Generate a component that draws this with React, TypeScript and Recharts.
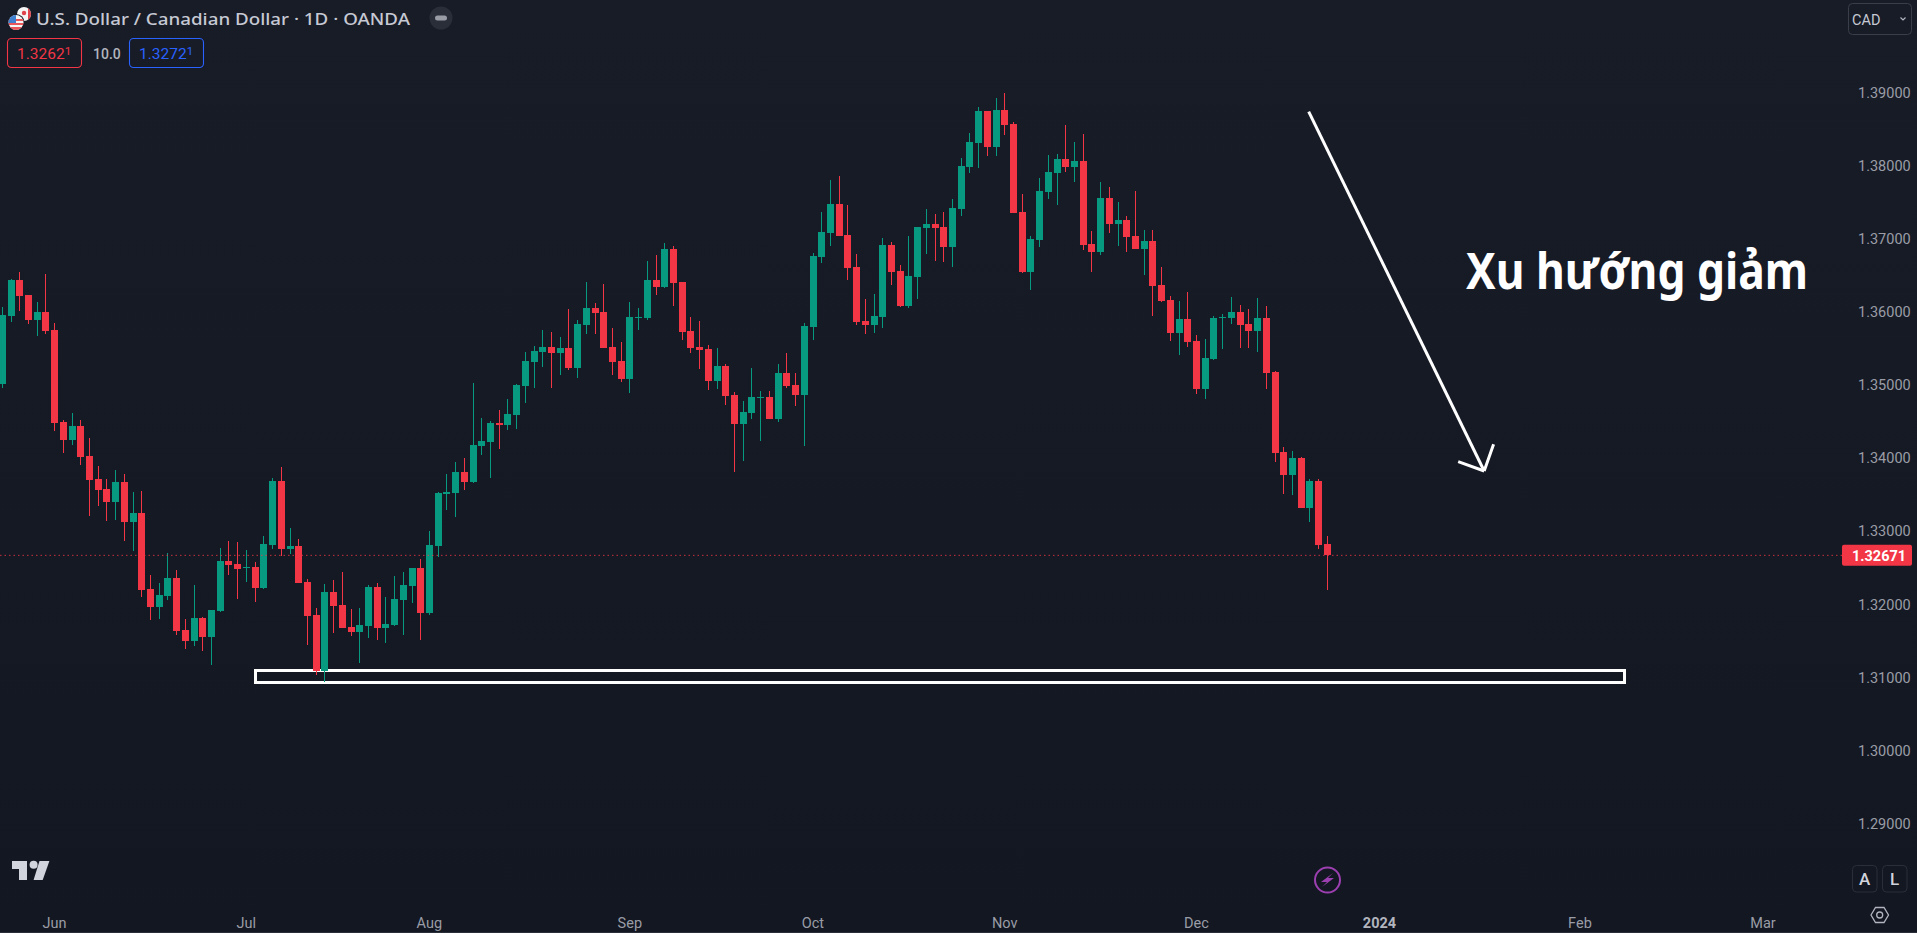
import { Bar, ComposedChart, ReferenceArea, ReferenceLine, XAxis, YAxis } from "recharts";

const opens = [
  1.35015, 1.35945, 1.36437, 1.36232, 1.3589, 1.36, 1.35753, 1.34495, 1.34249, 1.3444,
  1.3403, 1.33715, 1.33578, 1.334, 1.33674, 1.33127, 1.3325, 1.3221, 1.31964, 1.32115,
  1.32361, 1.31649, 1.31499, 1.31814, 1.31554, 1.31909, 1.32593, 1.32552, 1.32498, 1.32511,
  1.32224, 1.32812, 1.33688, 1.32757, 1.32799, 1.32306, 1.31855, 1.31089, 1.32169, 1.31991,
  1.3169, 1.31622, 1.31704, 1.32238, 1.31677, 1.31718, 1.3206, 1.32251, 1.32498, 1.31882,
  1.32799, 1.3351, 1.33524, 1.33812, 1.33675, 1.34167, 1.34222, 1.34482, 1.34455, 1.34591,
  1.34988, 1.35316, 1.35453, 1.35522, 1.3544, 1.35508, 1.35234, 1.35823, 1.36055, 1.36,
  1.35522, 1.3533, 1.35084, 1.35918, 1.35918, 1.36438, 1.36342, 1.36862, 1.36411, 1.35741,
  1.35522, 1.35494, 1.35057, 1.35262, 1.34865, 1.34468, 1.34619, 1.34824, 1.34838, 1.34537,
  1.35166, 1.35002, 1.34865, 1.35795, 1.36753, 1.37081, 1.37478, 1.37054, 1.36616, 1.35877,
  1.35822, 1.35932, 1.36917, 1.36561, 1.36082, 1.36479, 1.37149, 1.37204, 1.37163, 1.36889,
  1.37409, 1.37984, 1.38312, 1.3875, 1.38257, 1.38764, 1.38572, 1.37368, 1.36547, 1.36985,
  1.37642, 1.37902, 1.38093, 1.37984, 1.38066, 1.3693, 1.36821, 1.3756, 1.37204, 1.37259,
  1.3704, 1.36862, 1.36972, 1.3637, 1.36164, 1.35713, 1.35904, 1.35604, 1.34946, 1.35357,
  1.35918, 1.35918, 1.36, 1.35835, 1.3574, 1.35918, 1.35179, 1.34084, 1.3377, 1.34002,
  1.33318, 1.33688, 1.32826,
];
const highs = [
  1.36068, 1.36451, 1.36547, 1.36232, 1.36136, 1.36519, 1.35849, 1.34522, 1.34618, 1.34522,
  1.34276, 1.33893, 1.33715, 1.33838, 1.33783, 1.33537, 1.33551, 1.32402, 1.32292, 1.32703,
  1.3247, 1.318, 1.32265, 1.31827, 1.31923, 1.32771, 1.32867, 1.32853, 1.32744, 1.3258,
  1.32935, 1.33729, 1.33879, 1.33045, 1.32894, 1.32347, 1.3195, 1.32279, 1.32333, 1.32443,
  1.31937, 1.3195, 1.32265, 1.32292, 1.32101, 1.32388, 1.32443, 1.32498, 1.32621, 1.33004,
  1.33537, 1.33783, 1.33948, 1.34003, 1.35029, 1.3455, 1.34509, 1.3466, 1.3481, 1.35015,
  1.35453, 1.35535, 1.35754, 1.35727, 1.35658, 1.36041, 1.35891, 1.36411, 1.36124, 1.36383,
  1.35782, 1.3559, 1.36137, 1.36055, 1.36698, 1.3678, 1.36944, 1.36903, 1.36411, 1.35932,
  1.35877, 1.35549, 1.35508, 1.35289, 1.34906, 1.34783, 1.35234, 1.3492, 1.3492, 1.35289,
  1.3544, 1.35166, 1.3585, 1.36807, 1.37368, 1.37806, 1.37861, 1.37464, 1.36794, 1.36178,
  1.36246, 1.37013, 1.36958, 1.36643, 1.3704, 1.37163, 1.37409, 1.37341, 1.37368, 1.37546,
  1.38107, 1.38449, 1.38805, 1.3875, 1.38928, 1.38996, 1.38599, 1.37614, 1.3704, 1.37833,
  1.38148, 1.38162, 1.38558, 1.38326, 1.38435, 1.37108, 1.37779, 1.3771, 1.37505, 1.37314,
  1.37656, 1.37122, 1.37122, 1.36616, 1.36219, 1.36151, 1.36274, 1.35686, 1.3563, 1.35945,
  1.35972, 1.36205, 1.36095, 1.36041, 1.36191, 1.36082, 1.35193, 1.34153, 1.34098, 1.34016,
  1.33715, 1.33715, 1.32935,
];
const lows = [
  1.3496, 1.35863, 1.36013, 1.35835, 1.35671, 1.35699, 1.34372, 1.34071, 1.3418, 1.33907,
  1.33209, 1.33346, 1.33141, 1.33154, 1.32867, 1.3273, 1.32101, 1.31786, 1.318, 1.3206,
  1.31581, 1.31389, 1.31431, 1.31362, 1.31171, 1.31896, 1.32402, 1.32073, 1.32306, 1.32032,
  1.3221, 1.32757, 1.32662, 1.32689, 1.32292, 1.31444, 1.31034, 1.30938, 1.31608, 1.31677,
  1.31567, 1.31198, 1.3154, 1.31513, 1.31472, 1.31704, 1.31581, 1.32019, 1.31513, 1.31855,
  1.32648, 1.33291, 1.33196, 1.33565, 1.33661, 1.34044, 1.3373, 1.34126, 1.34386, 1.344,
  1.34756, 1.34961, 1.35248, 1.34961, 1.35139, 1.35207, 1.35098, 1.35699, 1.35699, 1.35508,
  1.35139, 1.35043, 1.34892, 1.35754, 1.35891, 1.36233, 1.36329, 1.36083, 1.35617, 1.3544,
  1.35221, 1.34933, 1.34947, 1.34728, 1.33812, 1.33962, 1.34537, 1.34236, 1.34537, 1.34496,
  1.34961, 1.34715, 1.34167, 1.35617, 1.36671, 1.36903, 1.3704, 1.36438, 1.35822, 1.35699,
  1.35713, 1.35781, 1.3637, 1.36069, 1.36055, 1.36178, 1.36794, 1.36698, 1.36684, 1.36616,
  1.37314, 1.37902, 1.3797, 1.38134, 1.38134, 1.38422, 1.37355, 1.36534, 1.36301, 1.36889,
  1.37546, 1.37464, 1.37915, 1.37779, 1.36848, 1.36547, 1.3678, 1.37081, 1.36903, 1.36821,
  1.36862, 1.36506, 1.35946, 1.36137, 1.35604, 1.35412, 1.35521, 1.34878, 1.34809, 1.35343,
  1.35493, 1.35835, 1.35507, 1.35507, 1.35452, 1.34946, 1.33948, 1.3351, 1.33496, 1.33318,
  1.33127, 1.32757, 1.32197,
];
const closes = [
  1.35959, 1.36437, 1.36219, 1.3589, 1.36, 1.3574, 1.34481, 1.34249, 1.3444, 1.34016,
  1.33701, 1.33565, 1.334, 1.33674, 1.33127, 1.3325, 1.32197, 1.31964, 1.32128, 1.32361,
  1.31636, 1.31499, 1.31814, 1.31554, 1.31923, 1.32593, 1.32539, 1.32484, 1.32511, 1.32224,
  1.32826, 1.33688, 1.32757, 1.32799, 1.32292, 1.31841, 1.31089, 1.32169, 1.31978, 1.31677,
  1.31622, 1.31718, 1.32238, 1.31677, 1.31731, 1.32073, 1.32265, 1.32498, 1.31882, 1.32812,
  1.33524, 1.33537, 1.33812, 1.33675, 1.34181, 1.34236, 1.34482, 1.34455, 1.34605, 1.35002,
  1.3533, 1.35467, 1.35522, 1.3544, 1.35508, 1.35234, 1.35836, 1.36055, 1.35987, 1.35508,
  1.35316, 1.35084, 1.35932, 1.35932, 1.36438, 1.36342, 1.36862, 1.36397, 1.35727, 1.35508,
  1.35481, 1.35057, 1.35262, 1.34851, 1.34468, 1.34632, 1.34838, 1.34838, 1.34537, 1.35166,
  1.34988, 1.34865, 1.35809, 1.36766, 1.37095, 1.37478, 1.3704, 1.36602, 1.35863, 1.35822,
  1.35946, 1.36917, 1.36547, 1.36082, 1.36493, 1.37163, 1.37204, 1.37149, 1.36889, 1.37423,
  1.37998, 1.38326, 1.3875, 1.38257, 1.38764, 1.38558, 1.37355, 1.36547, 1.36999, 1.37656,
  1.37915, 1.38093, 1.37984, 1.38066, 1.36917, 1.36821, 1.3756, 1.37204, 1.37259, 1.37026,
  1.36862, 1.36972, 1.36356, 1.36151, 1.35713, 1.35904, 1.3559, 1.34947, 1.3537, 1.35918,
  1.35931, 1.36, 1.35822, 1.3574, 1.35918, 1.35165, 1.34071, 1.3377, 1.34002, 1.33318,
  1.33688, 1.32812, 1.32671,
];

const priceTicks = [1.29, 1.3, 1.31, 1.32, 1.33, 1.34, 1.35, 1.36, 1.37, 1.38, 1.39];
const monthTickIndexes = [6, 28, 49, 72, 93, 115, 137, 158, 181, 202];
const monthTickLabels = ["Jun", "Jul", "Aug", "Sep", "Oct", "Nov", "Dec", "2024", "Feb", "Mar"];

// hand drawn annotations, in bar index / price
const supportZone = { fromIndex: 29.06, toIndex: 186.11, low: 1.30932, high: 1.31096 };
const arrowShaft = [
  { x: 149.88, y: 1.3874 },
  { x: 170.01, y: 1.33825 },
];
const arrowBarbLeft = [
  { x: 167.03, y: 1.33952 },
  { x: 170.01, y: 1.33825 },
];
const arrowBarbRight = [
  { x: 171.09, y: 1.3419 },
  { x: 170.01, y: 1.33825 },
];

const UP = "#089981";
const DOWN = "#f23645";
const AXIS_TEXT = "#9a9da6";
const FONT = "Roboto, sans-serif";

const candles = opens.map((open, i) => ({
  i,
  open,
  close: closes[i],
  high: highs[i],
  low: lows[i],
  range: [lows[i], highs[i]],
}));
const lastClose = closes[closes.length - 1];

function Candle(props: any) {
  const { x, y, width, height, payload } = props;
  const { open, close, high, low } = payload;
  const pxPerPrice = height / (high - low);
  const color = close >= open ? UP : DOWN;
  const left = Math.round(x + width / 2 - 3.5);
  const bodyTop = Math.round(y + (high - Math.max(open, close)) * pxPerPrice);
  const bodyBottom = Math.round(y + (high - Math.min(open, close)) * pxPerPrice);
  const wickTop = Math.round(y);
  const wickBottom = Math.round(y + height);
  return (
    <g>
      <rect x={left + 3} y={wickTop} width={1} height={wickBottom - wickTop} fill={color} />
      <rect x={left} y={bodyTop} width={7} height={Math.max(bodyBottom - bodyTop, 1)} fill={color} />
    </g>
  );
}

function MonthTick({ x, y, payload }: any) {
  const label = monthTickLabels[monthTickIndexes.indexOf(payload.value)];
  return (
    <text
      x={x}
      y={y + 27}
      textAnchor="middle"
      fill={label === "2024" ? "#b2b5be" : AXIS_TEXT}
      fontFamily={FONT}
      fontSize={14.5}
      fontWeight={label === "2024" ? 700 : 400}
    >
      {label}
    </text>
  );
}

function PriceTag({ viewBox }: any) {
  const right = viewBox.x + viewBox.width;
  const mid = viewBox.y;
  return (
    <g>
      <rect x={right} y={mid - 10.5} width={70} height={21} rx={2} fill={DOWN} />
      <text x={right + 10} y={mid + 5.5} fill="#fff" fontFamily={FONT} fontSize={14.5} fontWeight={700}>
        {lastClose.toFixed(5)}
      </text>
    </g>
  );
}

function QuoteBox({ x, color, price }: { x: number; color: string; price: string }) {
  return (
    <g>
      <rect x={x + 0.5} y={38.5} width={74} height={29} rx={4} fill="none" stroke={color} strokeWidth={1.1} />
      <text x={x + 10} y={59} fill={color} fontFamily={FONT} fontSize={15.5}>
        {price}
        <tspan fontSize={11.5} dy={-4.5}>
          1
        </tspan>
      </text>
    </g>
  );
}

function Overlay() {
  return (
    <svg
      width={1917}
      height={933}
      style={{ position: "absolute", left: 0, top: 0, pointerEvents: "none" }}
    >
      <defs>
        <clipPath id="usFlag">
          <circle cx={16} cy={22.5} r={7.5} />
        </clipPath>
        <clipPath id="caFlag">
          <circle cx={24} cy={14} r={7} />
        </clipPath>
      </defs>

      <g clipPath="url(#caFlag)">
        <rect x={16} y={6} width={16} height={16} fill="#f5f5f5" />
        <rect x={28} y={6} width={4} height={16} fill="#e0434b" />
        <circle cx={24} cy={13} r={2.2} fill="#e0434b" />
      </g>
      <circle cx={16} cy={22.5} r={8.6} fill="#181c27" />
      <g clipPath="url(#usFlag)">
        <rect x={8} y={15} width={16} height={16} fill="#f5f5f5" />
        <rect x={8} y={19} width={16} height={2} fill="#e8565a" />
        <rect x={8} y={23} width={16} height={2} fill="#e8565a" />
        <rect x={8} y={27} width={16} height={4} fill="#e8565a" />
        <rect x={8} y={15} width={8} height={8} fill="#3f7fd0" />
      </g>

      <text
        x={36}
        y={25}
        fill="#c6c9d3"
        fontFamily="'Noto Sans', sans-serif"
        fontSize={16.5}
        fontWeight={500}
        textLength={374}
        lengthAdjust="spacingAndGlyphs"
      >
        U.S. Dollar / Canadian Dollar · 1D · OANDA
      </text>
      <circle cx={441} cy={18} r={11.5} fill="#2a2e39" />
      <rect x={435} y={15.5} width={12} height={5} rx={2.5} fill="#9a9da6" />

      <QuoteBox x={7} color={DOWN} price="1.3262" />
      <text x={93} y={58.5} fill="#b2b5be" fontFamily={FONT} fontSize={14} fontWeight={500}>
        10.0
      </text>
      <QuoteBox x={129} color="#2962ff" price="1.3272" />

      <rect x={1848.5} y={3.5} width={63} height={31} rx={4} fill="none" stroke="#3a3e49" />
      <text x={1852} y={25} fill="#c6c9d3" fontFamily={FONT} fontSize={14.5}>
        CAD
      </text>
      <path d="M1900.5 17.5 L1903 20 L1905.5 17.5" fill="none" stroke="#b2b5be" strokeWidth={1.2} />

      <text
        x={1466}
        y={289}
        fill="#fff"
        fontFamily="'Noto Sans', sans-serif"
        fontSize={50}
        fontWeight={700}
        textLength={342}
        lengthAdjust="spacingAndGlyphs"
      >
        Xu hướng giảm
      </text>

      <path d="M12 861 H27 V880 H19 V869 H12 Z" fill="#d1d4dc" />
      <circle cx={33.6} cy={864.8} r={4} fill="#d1d4dc" />
      <path d="M39.5 861 H49.4 L42.7 880 H33.6 Z" fill="#d1d4dc" />

      <circle cx={1327.5} cy={880} r={12.5} fill="none" stroke="#9c3fb0" strokeWidth={2} />
      <path d="M1333 873 L1321 882 H1327 L1322 887 L1334 878 H1328 Z" fill="#9c3fb0" />

      <rect x={1852.5} y={865.5} width={24.5} height={26.5} rx={4} fill="none" stroke="#2a2e39" />
      <text x={1864.7} y={885} textAnchor="middle" fill="#d1d4dc" fontFamily={FONT} fontSize={17} fontWeight={500}>
        A
      </text>
      <rect x={1882.5} y={865.5} width={24.5} height={26.5} rx={4} fill="none" stroke="#2a2e39" />
      <text x={1894.7} y={885} textAnchor="middle" fill="#d1d4dc" fontFamily={FONT} fontSize={17} fontWeight={500}>
        L
      </text>

      <path
        d="M1871 915 L1875.5 907.5 H1884 L1888.5 915 L1884 922.5 H1875.5 Z"
        fill="none"
        stroke="#b2b5be"
        strokeWidth={1.3}
      />
      <circle cx={1879.7} cy={915} r={3} fill="none" stroke="#b2b5be" strokeWidth={1.3} />

      <rect x={0} y={932} width={1917} height={1} fill="#2a2e39" />
    </svg>
  );
}

export default function App() {
  return (
    <div
      style={{
        position: "fixed",
        left: 0,
        top: 0,
        width: 1917,
        height: 933,
        overflow: "hidden",
        background: "linear-gradient(#181c27, #131722)",
      }}
    >
      <ComposedChart
        width={1917}
        height={933}
        data={candles}
        margin={{ top: 0, right: 0, bottom: 0, left: 0 }}
      >
        <XAxis
          dataKey="i"
          type="number"
          scale="linear"
          domain={[-0.2524, 211.06]}
          allowDataOverflow
          ticks={monthTickIndexes}
          interval={0}
          height={40}
          axisLine={false}
          tickLine={false}
          tick={<MonthTick />}
        />
        <YAxis
          orientation="right"
          domain={[1.28052, 1.40268]}
          allowDataOverflow
          ticks={priceTicks}
          interval={0}
          width={75}
          axisLine={false}
          tickLine={false}
          tickMargin={10}
          tickFormatter={(v: number) => v.toFixed(5)}
          tick={{ fill: AXIS_TEXT, fontFamily: FONT, fontSize: 14.5 }}
        />
        <ReferenceLine
          y={lastClose}
          stroke={DOWN}
          strokeOpacity={0.8}
          strokeDasharray="1.5 3"
          label={<PriceTag />}
        />
        <ReferenceArea
          x1={supportZone.fromIndex}
          x2={supportZone.toIndex}
          y1={supportZone.low}
          y2={supportZone.high}
          fill="none"
          stroke="#fff"
          strokeWidth={3}
          fillOpacity={0}
        />
        <Bar dataKey="range" barSize={7} shape={<Candle />} isAnimationActive={false} />
        <ReferenceLine segment={arrowShaft} stroke="#fff" strokeWidth={3} />
        <ReferenceLine segment={arrowBarbLeft} stroke="#fff" strokeWidth={3} />
        <ReferenceLine segment={arrowBarbRight} stroke="#fff" strokeWidth={3} />
      </ComposedChart>
      <Overlay />
    </div>
  );
}
